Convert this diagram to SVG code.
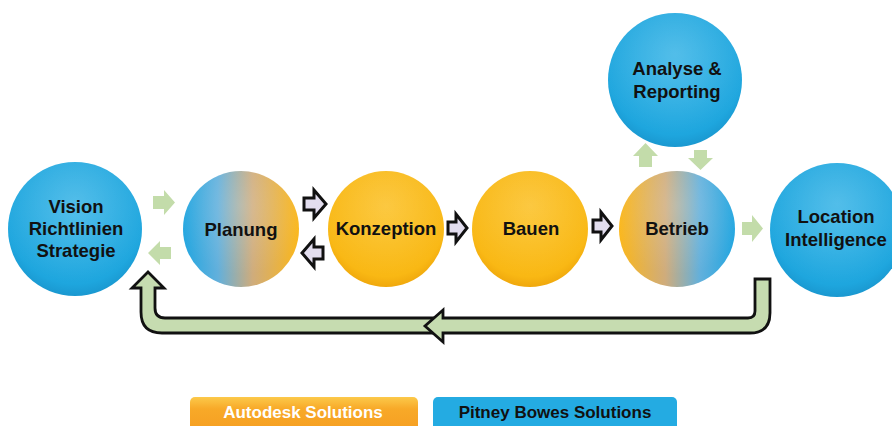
<svg xmlns="http://www.w3.org/2000/svg" width="892" height="426" viewBox="0 0 892 426">
<defs>
<radialGradient id="gBlue" cx="50%" cy="40%" r="60%">
<stop offset="0" stop-color="#2fb1e6"/>
<stop offset="0.85" stop-color="#1ea6de"/>
<stop offset="1" stop-color="#1a98d0"/>
</radialGradient>
<radialGradient id="gYel" cx="50%" cy="40%" r="60%">
<stop offset="0" stop-color="#fbbd18"/>
<stop offset="0.85" stop-color="#f9b814"/>
<stop offset="1" stop-color="#f0a80c"/>
</radialGradient>
<linearGradient id="gBO" x1="0" y1="0" x2="1" y2="0">
<stop offset="0" stop-color="#22a6e0"/>
<stop offset="0.3" stop-color="#62b0dc"/>
<stop offset="0.6" stop-color="#cfac7c"/>
<stop offset="1" stop-color="#fbb71a"/>
</linearGradient>
<linearGradient id="gOB" x1="0" y1="0" x2="1" y2="0">
<stop offset="0" stop-color="#fbb71a"/>
<stop offset="0.4" stop-color="#cfac7c"/>
<stop offset="0.7" stop-color="#62b0dc"/>
<stop offset="1" stop-color="#22a6e0"/>
</linearGradient>
<radialGradient id="gloss" cx="50%" cy="30%" r="60%">
<stop offset="0" stop-color="#fff" stop-opacity="0.18"/>
<stop offset="1" stop-color="#fff" stop-opacity="0"/>
</radialGradient>
<linearGradient id="gAuto" x1="0" y1="0" x2="0" y2="1">
<stop offset="0" stop-color="#fcc94a"/>
<stop offset="0.3" stop-color="#f8a928"/>
<stop offset="1" stop-color="#f59c20"/>
</linearGradient>
<style>
.t{font-family:"Liberation Sans",Arial,sans-serif;font-weight:bold;font-size:18.5px;fill:#111;text-anchor:middle}
.lg{font-family:"Liberation Sans",Arial,sans-serif;font-weight:bold;font-size:17px;text-anchor:middle}
.ga{fill:#c3dcaa}
.oa{fill:#e2ddee;stroke:#111;stroke-width:3;stroke-linejoin:miter}
.big{fill:#c6dcb0;stroke:#111;stroke-width:2.8;stroke-linejoin:miter}
.gl{fill:url(#gloss)}
</style>
</defs>

<g id="connectors">
<path class="big" d="M148,272 L164,288 L155,288 L155,308 Q155,318 165,318 L438,318 L438,333 L162,333 Q141,333 141,312 L141,288 L132,288 Z"/>
<path class="big" d="M770,279 L770,313 Q770,333 750,333 L443,333 L443,342 L425,326 L443,310 L443,318 L748,318 Q755,318 755,311 L755,279 Z"/>
<polygon class="ga" points="153,196 164,196 164,190 175,202.5 164,215 164,209 153,209"/>
<polygon class="ga" points="171,247 160,247 160,241 148,253 160,265 160,259 171,259"/>
<polygon class="ga" points="639,167 639,156 633,156 645.5,143 658,156 652,156 652,167"/>
<polygon class="ga" points="694,150 707,150 707,158 713,158 700.5,170 688,158 694,158"/>
<polygon class="ga" points="742,222 752,222 752,215 763,228.5 752,242 752,235 742,235"/>
<polygon class="oa" points="304,198 314,198 314,190 326,204 314,218 314,210 304,210"/>
<polygon class="oa" points="323,247 314,247 314,239 302,253 314,267 314,259 323,259"/>
<polygon class="oa" points="448,222 456,222 456,214 467,228 456,242 456,234 448,234"/>
<polygon class="oa" points="593,220 601,220 601,212 612,226 601,240 601,232 593,232"/>
</g>

<g id="vision">
<circle cx="75" cy="229" r="67" fill="url(#gBlue)"/>
<circle cx="75" cy="229" r="67" class="gl"/>
<text class="t" x="76" y="213">Vision</text>
<text class="t" x="76" y="235">Richtlinien</text>
<text class="t" x="76" y="257">Strategie</text>
</g>

<g id="planung">
<circle cx="241" cy="229" r="58" fill="url(#gBO)"/>
<circle cx="241" cy="229" r="58" class="gl"/>
<text class="t" x="241" y="236">Planung</text>
</g>

<g id="konzeption">
<circle cx="386" cy="229" r="58" fill="url(#gYel)"/>
<circle cx="386" cy="229" r="58" class="gl"/>
<text class="t" x="386" y="235">Konzeption</text>
</g>

<g id="bauen">
<circle cx="530" cy="229" r="58" fill="url(#gYel)"/>
<circle cx="530" cy="229" r="58" class="gl"/>
<text class="t" x="531" y="235">Bauen</text>
</g>

<g id="betrieb">
<circle cx="677" cy="229" r="58" fill="url(#gOB)"/>
<circle cx="677" cy="229" r="58" class="gl"/>
<text class="t" x="677" y="235">Betrieb</text>
</g>

<g id="analyse">
<circle cx="675" cy="80" r="67" fill="url(#gBlue)"/>
<circle cx="675" cy="80" r="67" class="gl"/>
<text class="t" x="677" y="75">Analyse &amp;</text>
<text class="t" x="677" y="98">Reporting</text>
</g>

<g id="location">
<circle cx="837" cy="230" r="67" fill="url(#gBlue)"/>
<circle cx="837" cy="230" r="67" class="gl"/>
<text class="t" x="836" y="223">Location</text>
<text class="t" x="836" y="246">Intelligence</text>
</g>

<g id="legend-autodesk">
<rect x="190" y="397" width="228" height="40" rx="5" fill="url(#gAuto)"/>
<text class="lg" x="303" y="418" fill="#fff">Autodesk Solutions</text>
</g>
<g id="legend-pitney">
<rect x="433" y="397" width="244" height="40" rx="5" fill="#24abe2"/>
<text class="lg" x="555" y="418" fill="#111">Pitney Bowes Solutions</text>
</g>
</svg>
